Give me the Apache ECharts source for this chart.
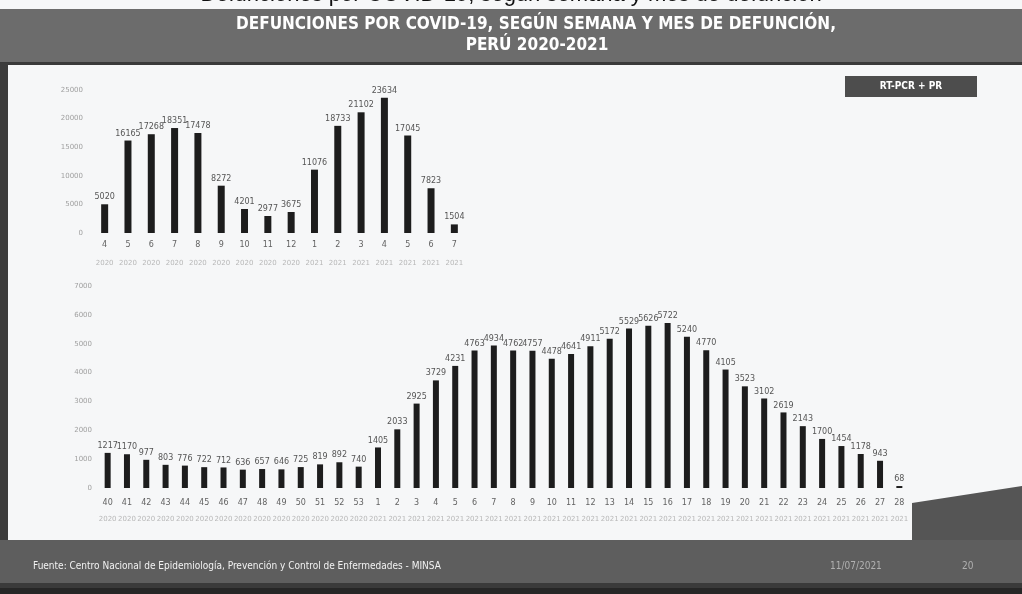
<!DOCTYPE html>
<html>
<head>
<meta charset="utf-8">
<script src="https://cdn.jsdelivr.net/npm/echarts@6/dist/echarts.min.js"></script>
<style>
html,body{margin:0;padding:0;background:#f6f7f8;}
#c{width:1022px;height:594px;}
</style>
</head>
<body>
<div id="c"></div>
<script>
// ---- data ----
const monthLabels = ['4','5','6','7','8','9','10','11','12','1','2','3','4','5','6','7'];
const monthYears  = ['2020','2020','2020','2020','2020','2020','2020','2020','2020','2021','2021','2021','2021','2021','2021','2021'];
const monthDeaths = [5020,16165,17268,18351,17478,8272,4201,2977,3675,11076,18733,21102,23634,17045,7823,1504];

const weekLabels = ['40','41','42','43','44','45','46','47','48','49','50','51','52','53',
  '1','2','3','4','5','6','7','8','9','10','11','12','13','14','15','16','17','18','19','20','21','22','23','24','25','26','27','28'];
const weekYears = ['2020','2020','2020','2020','2020','2020','2020','2020','2020','2020','2020','2020','2020','2020',
  '2021','2021','2021','2021','2021','2021','2021','2021','2021','2021','2021','2021','2021','2021','2021','2021','2021','2021','2021','2021','2021','2021','2021','2021','2021','2021','2021','2021'];
const weekDeaths = [1217,1170,977,803,776,722,712,636,657,646,725,819,892,740,
  1405,2033,2925,3729,4231,4763,4934,4762,4757,4478,4641,4911,5172,5529,5626,5722,5240,4770,4105,3523,3102,2619,2143,1700,1454,1178,943,68];

const topTicks = {min:0, max:25000, interval:5000};
const bottomTicks = {min:0, max:7000, interval:1000};

const titleLine1 = 'DEFUNCIONES POR COVID-19, SEGÚN SEMANA Y MES DE DEFUNCIÓN,';
const titleLine2 = 'PERÚ 2020-2021';
const slideHeading = 'Defunciones por COVID-19, según semana y mes de defunción';
const badgeText = 'RT-PCR + PR';
const sourceText = 'Fuente: Centro Nacional de Epidemiología, Prevención y Control de Enfermedades - MINSA';
const dateText = '11/07/2021';
const pageText = '20';

const chart = echarts.init(document.getElementById('c'));
const narrow = "'Liberation Sans Narrow','DejaVu Sans Condensed',sans-serif";

function xAxisFor(grid, labels, years, lh, margin) {
  return {
    gridIndex: grid, type: 'category', data: labels,
    axisLine: {show: false}, axisTick: {show: false},
    axisLabel: {
      interval: 0, margin: margin,
      formatter: (v, i) => '{a|' + v + '}\n{b|' + years[i] + '}',
      rich: {
        a: {fontSize: 8, color: '#626262', lineHeight: lh, fontFamily: 'DejaVu Sans'},
        b: {fontSize: 7, color: '#b8b8b8', lineHeight: lh, fontFamily: 'DejaVu Sans'}
      }
    }
  };
}
function yAxisFor(grid, t, margin) {
  return {
    gridIndex: grid, type: 'value', min: t.min, max: t.max, interval: t.interval,
    splitLine: {show: false}, axisLine: {show: false}, axisTick: {show: false},
    axisLabel: {fontSize: 7, color: '#a0a0a0', margin: margin, fontFamily: 'DejaVu Sans',
      formatter: v => String(v)}
  };
}
function barSeries(idx, data, w) {
  return {
    type: 'bar', xAxisIndex: idx, yAxisIndex: idx, data: data, barWidth: w,
    itemStyle: {color: '#1d1d1d'},
    label: {show: true, position: 'top', distance: 3, fontSize: 8, color: '#555', fontFamily: 'DejaVu Sans'}
  };
}

const option = {
  animation: false,
  grid: [
    {left: 93, top: 90, width: 373, height: 143},
    {left: 98, top: 286, width: 811, height: 202}
  ],
  xAxis: [xAxisFor(0, monthLabels, monthYears, 18, 3), xAxisFor(1, weekLabels, weekYears, 16, 7)],
  yAxis: [yAxisFor(0, topTicks, 10), yAxisFor(1, bottomTicks, 6)],
  series: [barSeries(0, monthDeaths, 7), barSeries(1, weekDeaths, 6)],
  graphic: [
    // slide heading, cut at the top edge
    {type: 'text', left: 'center', top: -16, z: -10, style: {text: slideHeading, font: '22px "Liberation Sans", sans-serif', fill: '#111'}},
    // header band
    {type: 'rect', shape: {x: 0, y: 9, width: 1022, height: 54}, z: -5, style: {fill: '#6c6c6c'}},
    {type: 'rect', shape: {x: 0, y: 62, width: 1022, height: 3}, z: -5, style: {fill: '#3a3a3a'}},
    {type: 'text', x: 536, y: 25, z: -4, style: {text: titleLine1, font: 'bold 17px ' + narrow, fill: '#fff', align: 'center', verticalAlign: 'middle'}},
    {type: 'text', x: 537, y: 45.5, z: -4, style: {text: titleLine2, font: 'bold 17px ' + narrow, fill: '#fff', align: 'center', verticalAlign: 'middle'}},
    // left frame
    {type: 'rect', shape: {x: 0, y: 63, width: 8, height: 480}, z: -5, style: {fill: '#3c3c3c'}},
    // badge
    {type: 'rect', shape: {x: 845, y: 76, width: 132, height: 21}, z: -4, style: {fill: '#4d4d4d'}},
    {type: 'text', x: 911, y: 86.5, z: -3, style: {text: badgeText, font: 'bold 10px ' + narrow, fill: '#fff', align: 'center', verticalAlign: 'middle'}},
    // bottom right dark wedge
    {type: 'polygon', shape: {points: [[912, 503], [1022, 486], [1022, 594], [912, 594]]}, z: -5, style: {fill: '#555'}},
    // footer band
    {type: 'rect', shape: {x: 0, y: 540, width: 1022, height: 54}, z: -5, style: {fill: '#5e5e5e'}},
    {type: 'rect', shape: {x: 0, y: 583, width: 1022, height: 5}, z: -4, style: {fill: '#3a3a3a'}},
    {type: 'rect', shape: {x: 0, y: 588, width: 1022, height: 6}, z: -4, style: {fill: '#262626'}},
    {type: 'text', x: 33, y: 566, z: -3, style: {text: sourceText, font: '10px ' + narrow, fill: '#f2f2f2', verticalAlign: 'middle'}},
    {type: 'text', x: 830, y: 566, z: -3, style: {text: dateText, font: '10px ' + narrow, fill: '#b0b0b0', verticalAlign: 'middle'}},
    {type: 'text', x: 962, y: 566, z: -3, style: {text: pageText, font: '10px ' + narrow, fill: '#b0b0b0', verticalAlign: 'middle'}}
  ]
};
chart.setOption(option);
</script>
</body>
</html>
